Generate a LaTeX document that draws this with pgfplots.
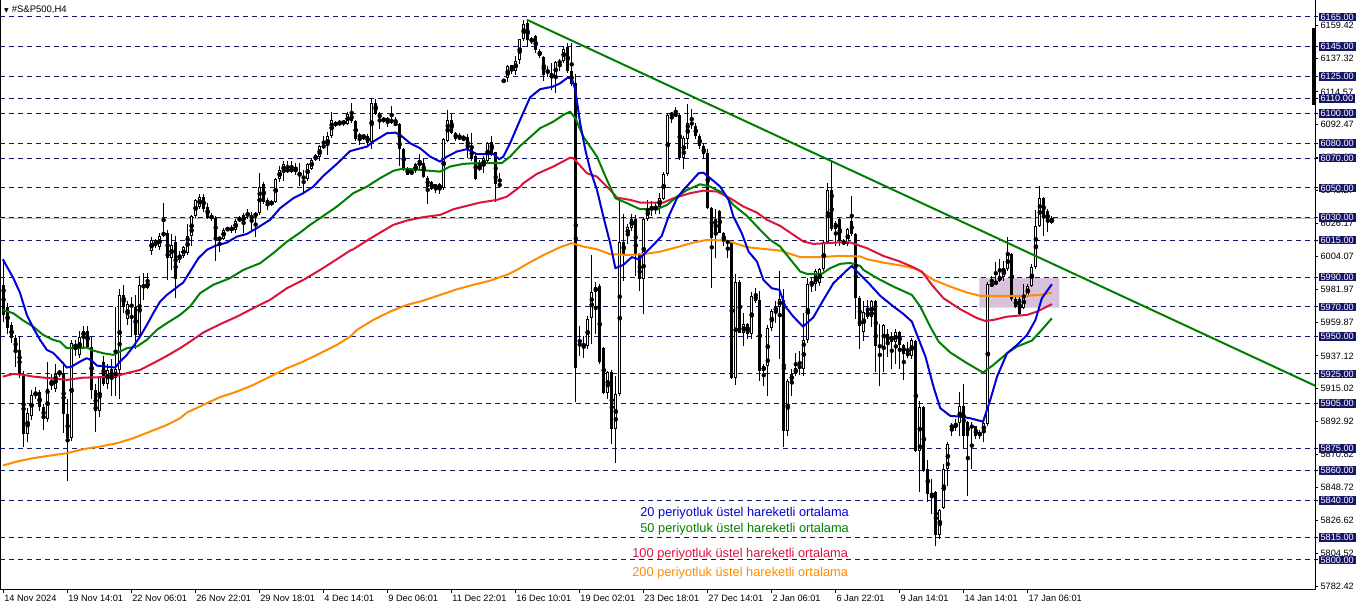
\documentclass[border=0pt]{standalone}
\usepackage{pgfplots}
\pgfplotsset{compat=1.18}
\usepackage{pgfplotstable}
\usepackage{fontspec}
\setmainfont{Liberation Sans}
\newfontfamily\dejavu{DejaVu Sans}
\definecolor{navyL}{RGB}{22,22,102}
\definecolor{blueMA}{RGB}{0,0,215}
\definecolor{greenMA}{RGB}{0,128,0}
\definecolor{redMA}{RGB}{220,20,60}
\definecolor{orangeMA}{RGB}{255,140,0}
\definecolor{boxP}{RGB}{216,193,218}

\pgfplotstableread{
i O H L C
0 5985 6002 5960 5965
1 5970 5973 5952 5956
2 5958 5960 5946 5949
3 5949 5951 5930 5941
4 5941 5950 5922 5925
5 5924 5927 5876 5885
6 5885 5902 5879 5899
7 5897 5914 5894 5911
8 5910 5916 5908 5913
9 5913 5914 5900 5903
10 5903 5905 5887 5895
11 5895 5933 5893 5915
12 5917 5925 5914 5920
13 5915 5932 5913 5925
14 5925 5928 5923 5927
15 5926 5933 5885 5898
16 5898 5908 5853 5882
17 5882 5948 5880 5946
18 5943 5948 5937 5945
19 5938 5954 5936 5950
20 5950 5957 5943 5954
21 5954 5957 5942 5943
22 5943 5950 5908 5914
23 5914 5918 5886 5900
24 5900 5924 5896 5923
25 5933 5937 5917 5918
26 5918 5932 5915 5928
27 5928 5935 5910 5922
28 5922 5970 5910 5928
29 5928 5982 5908 5978
30 5978 5985 5966 5970
31 5962 5974 5958 5972
32 5972 5977 5950 5970
33 5970 5978 5942 5951
34 5951 5991 5950 5985
35 5985 5993 5975 5983
36 5983 5993 5982 5987
37 6008 6017 6005 6015
38 6015 6016 6010 6011
39 6010 6020 6008 6018
40 6018 6040 6017 6020
41 6020 6022 5988 6003
42 6003 6019 5995 6012
43 6014 6018 5976 5989
44 6002 6008 6000 6005
45 6004 6011 6003 6010
46 6006 6026 6005 6018
47 6018 6032 6011 6031
48 6031 6043 6030 6042
49 6037 6046 6036 6044
50 6044 6046 6034 6036
51 6037 6040 6029 6030
52 6031 6033 6028 6030
53 6030 6031 6001 6017
54 6017 6018 6007 6015
55 6016 6023 6015 6022
56 6022 6024 6021 6022.5
57 6021 6025 6020 6024
58 6022 6029 6020 6028
59 6028 6031 6027 6030
60 6027 6033 6020 6032
61 6033 6036 6029 6031
62 6030 6034 6022 6031
63 6031 6034 6017 6033
64 6033 6060 6032 6051
65 6053 6054 6039 6041
66 6042 6043 6035 6039
67 6039 6042 6038 6041
68 6041 6057 6040 6056
69 6056 6065 6054 6062
70 6061 6068 6055 6066
71 6061 6068 6060 6063
72 6062 6068 6060 6062.3
73 6063 6067 6059 6061
74 6061 6067 6051 6058
75 6058 6062 6046 6056
76 6056 6067 6055 6066
77 6063 6070 6062 6069
78 6069 6073 6068 6072
79 6071 6079 6068 6078
80 6078 6085 6076 6078.3
81 6078 6088 6072 6085
82 6085 6101 6084 6096
83 6093 6095 6091 6093.3
84 6093 6096 6092 6094
85 6094 6096 6092 6094.5
86 6093 6101 6092 6100
87 6100 6107 6094 6095
88 6095 6096 6082 6083
89 6085.5 6087 6079 6084.5
90 6085 6086 6082 6084.6
91 6085 6086 6079 6080.5
92 6081 6110 6076 6107
93 6107 6110 6099 6100
94 6100 6101 6090 6097
95 6095 6098 6094 6097
96 6097 6098 6091 6095
97 6096 6105 6093 6094
98 6094 6098 6091.7 6092
99 6093 6094 6065 6076.5
100 6076.5 6077 6061.5 6062.6
101 6062.6 6064 6058.8 6059
102 6061 6062.6 6059 6059.7
103 6061.5 6067 6060 6066
104 6065.3 6072.7 6062.6 6067.5
105 6067 6070.4 6057 6057.7
106 6057 6058 6039.5 6050.7
107 6054 6054.8 6048.7 6049
108 6049 6053 6046.5 6052.5
109 6049 6053.6 6045.8 6052.5
110 6050 6084 6049 6083
111 6082 6102.5 6081 6096
112 6095.5 6099.5 6086 6087
113 6087 6088 6082 6083
114 6084.3 6086.8 6082.3 6083.2
115 6084 6086 6081.6 6082.3
116 6084.5 6086 6070.4 6076
117 6076 6087 6068 6070.4
118 6071.5 6072.7 6055.4 6056
119 6062 6069 6061.5 6065
120 6065 6071.5 6060 6070
121 6068 6081 6067 6080.5
122 6081 6085 6071.5 6072.7
123 6074 6074 6040.6 6052.5
124 6053 6060 6050 6051
125 6122.4 6123 6121 6122
126 6124 6133 6121 6132
127 6132.5 6133 6126.4 6129.3
128 6128.7 6138.8 6125.8 6135.4
129 6136 6150.4 6133 6150
130 6150 6163 6149 6160
131 6160.7 6163.4 6145 6149.5
132 6148 6151.7 6146.6 6151
133 6152 6152.6 6141 6142.8
134 6142 6143.7 6137.6 6138.8
135 6138.3 6138.8 6122 6126
136 6128.7 6132 6125 6127.6
137 6127.6 6134 6116 6124.2
138 6124.2 6135.4 6114 6134.7
139 6134.7 6136.5 6128.7 6134.4
140 6135.4 6145.5 6134.3 6143.7
141 6145 6147.7 6127.6 6128.7
142 6128.7 6147.7 6118.6 6119.7
143 6120.4 6126.4 5905.8 5929.3
144 5945 5957.3 5937.2 5944.5
145 5945 5950.6 5936 5943.9
146 5944 5964 5941.6 5962.2
147 5963 6004.8 5945 5980
148 5980 5987 5952 5983.7
149 5984 5985.3 5931.6 5933
150 5942.7 5943.4 5911.4 5912.5
151 5912.5 5927 5908 5926.4
152 5926.4 5927.5 5877.8 5888.3
153 5888 5923.7 5865.5 5911.4
154 5911.4 6043.6 5910.3 6013.8
155 6013.8 6032.4 5987.6 6005.5
156 6017.8 6025.6 6012.2 6024
157 6023.4 6032.4 6021.2 6029
158 6029 6031.7 5991 6004.8
159 6004.8 6006.6 5980.8 5988.7
160 5988.7 6030 5965.2 6029
161 6029 6042.4 6027.9 6036.8
162 6035.7 6041.3 6031.2 6037.5
163 6036.8 6040.2 6032.4 6036.9
164 6037.5 6047 6032.4 6043.6
165 6042.9 6060.8 6042 6059.2
166 6059.2 6100.2 6058.1 6098.9
167 6099.5 6101 6094 6099.6
168 6098.4 6104.7 6098 6099.8
169 6098.9 6099.5 6068.9 6070.4
170 6070.4 6085 6062.6 6083.9
171 6083 6106.3 6076.5 6093.5
172 6094 6103.4 6089.5 6092.8
173 6091.7 6094 6082.8 6085
174 6085 6086 6076.5 6078.3
175 6078.3 6080.5 6069.3 6072.7
176 6073.3 6076 6035.7 6036.8
177 6036.8 6037.5 5983 6016.7
178 6029 6035.7 6003.2 6020
179 6034.6 6035 6019.6 6020
180 6020 6020.5 6011 6013.8
181 6014.4 6015.5 6003.2 6012.9
182 6012.9 6013.3 5921.5 5922.6
183 5922.6 5992 5917.4 5986.9
184 5986.9 5988.2 5952.4 5952.8
185 5952.8 5966.3 5943.9 5958.4
186 5958.9 5959.5 5948.4 5952.2
187 5952.2 5980.2 5948.8 5977.5
188 5977.9 5983 5973 5974.1
189 5974.8 5980.8 5920.4 5927
190 5927 5931.6 5917 5930.4
191 5930.4 5957.8 5910.3 5956.2
192 5956.2 5968.5 5954 5967.4
193 5966.7 5974.1 5959.6 5970.3
194 5970.3 5994.3 5935 5975.2
195 5974.8 5982 5875.6 5886.8
196 5886.8 5921.5 5883.4 5920.4
197 5920.4 5928.2 5910.3 5924.8
198 5924.8 5939.4 5923.7 5929.3
199 5930.4 5940.5 5924.2 5929.3
200 5928.6 5965.8 5923.7 5947.9
201 5947.9 5989.8 5946.1 5985.3
202 5985.3 5989.8 5980.2 5986.9
203 5985.3 5995.4 5980.8 5994.3
204 5986 5996.5 5984.2 5995.4
205 5995.4 6015.1 5994.3 6013.8
206 6013.8 6053.2 6012.9 6048.7
207 6048.7 6068.2 6021.2 6022.3
208 6022.3 6027.9 6011 6026.8
209 6029 6030.1 6011 6014.4
210 6014.4 6015.5 6011.5 6012.2
211 6012.2 6023.4 6011 6022.3
212 6027.9 6044.7 6017.8 6018.9
213 6018.9 6019.6 5961.8 5976.4
214 5976.4 5977.5 5941.6 5957.3
215 5953.5 5974.3 5947.4 5966.9
216 5963.1 5974.8 5962 5967.6
217 5963.1 5975 5956.4 5974.3
218 5974.3 5975 5926.2 5944.1
219 5944.5 5958.6 5917.2 5943
220 5943 5958.6 5926.6 5958
221 5951.9 5955.3 5936.2 5946.3
222 5950.8 5953 5928.4 5946.3
223 5946.3 5955.3 5931.8 5953
224 5953 5954.2 5928.4 5944.5
225 5944.5 5945.2 5921.2 5938.5
226 5939.6 5946.3 5935.6 5937.4
227 5937.4 5949 5935.1 5948.1
228 5947.4 5948.1 5872.4 5873.5
229 5873.5 5907.1 5845.5 5902.6
230 5902.6 5903.3 5859 5860.1
231 5861.2 5867.5 5838.8 5844.4
232 5843.3 5854.5 5831 5844.4
233 5845.5 5846.6 5809.7 5816.9
234 5816.9 5834.3 5814.2 5833.9
235 5834.8 5864.6 5834.3 5861.2
236 5861.2 5879.1 5850 5878
237 5888.6 5891.9 5883.6 5890.8
238 5888.6 5894.8 5887 5892.1
239 5892.1 5912.7 5883.6 5903.8
240 5903.8 5918.3 5874.6 5883.6
241 5893 5893.7 5843.3 5883.2
242 5890.8 5892.6 5861.2 5888.5
243 5889.9 5890.3 5881.4 5883.6
244 5886.3 5887.6 5881.4 5883.2
245 5885.8 5893.7 5879.6 5892.1
246 5891.4 5986.6 5890.3 5985.5
247 5984 5991.1 5984 5986.2
248 5985.5 6000.5 5985 5987.3
249 5987.8 6002.3 5987.1 5990.7
250 5990 6001.2 5987.8 5996
251 5995.6 6016.9 5994.5 6005.7
252 6005.7 6006.1 5974.3 5975.4
253 5975.4 5976.6 5969.2 5969.8
254 5975.4 5976.6 5964.7 5965.4
255 5969.2 5985.5 5968.7 5977.7
256 5977.2 5985.5 5976.6 5984.4
257 5984.4 5999 5983.3 5996.7
258 5996.7 6035.5 5995.6 6024.3
259 6024.3 6051.6 6023.6 6043.1
260 6043.1 6043.8 6018 6030.3
261 6034.8 6035.9 6020.2 6027
262 6026.5 6031.4 6025.8 6029.6
}\candles

\begin{document}
\begin{tikzpicture}
\path[use as bounding box] (0,0) rectangle (1362pt,611pt);
\begin{axis}[
  at={(0pt,21pt)}, anchor=south west,
  scale only axis, width=1315pt, height=590pt,
  xmin=-0.9, xmax=327.85, ymin=5779.83, ymax=6176.43,
  axis line style={line width=1pt, black},
  tick style={black, line width=1pt},
  tick align=outside, major tick length=3pt,
  xtick pos=bottom, ytick pos=right,
  yticklabel pos=right,
  xtick={0,16,...,256},
  xticklabels={14 Nov 2024,19 Nov 14:01,22 Nov 06:01,26 Nov 22:01,29 Nov 18:01,4 Dec 14:01,9 Dec 06:01,11 Dec 22:01,16 Dec 10:01,19 Dec 02:01,23 Dec 18:01,27 Dec 14:01,2 Jan 06:01,6 Jan 22:01,9 Jan 14:01,14 Jan 14:01,17 Jan 06:01},
  xticklabel style={anchor=north west, inner xsep=0.5pt, inner ysep=1.5pt, font=\fontsize{9.2}{11}\selectfont},
  ytick={6159.42,6137.32,6114.57,6092.47,6070.37,6048.27,6026.17,6004.07,5981.97,5959.87,5937.12,5915.02,5892.92,5870.82,5848.72,5826.62,5804.52,5782.42},
  yticklabels={6159.42,6137.32,6114.57,6092.47,6070.37,6048.27,6026.17,6004.07,5981.97,5959.87,5937.12,5915.02,5892.92,5870.82,5848.72,5826.62,5804.52,5782.42},
  yticklabel style={anchor=west, inner xsep=2pt, inner ysep=1pt, font=\fontsize{9.2}{11}\selectfont},
  extra y ticks={6165,6145,6125,6110,6100,6080,6070,6050,6030,6015,5990,5970,5950,5925,5905,5875,5860,5840,5815,5800},
  extra y tick labels={6165.00,6145.00,6125.00,6110.00,6100.00,6080.00,6070.00,6050.00,6030.00,6015.00,5990.00,5970.00,5950.00,5925.00,5905.00,5875.00,5860.00,5840.00,5815.00,5800.00},
  extra y tick style={grid=major, major grid style={navyL, line width=1pt, dash pattern=on 5pt off 4pt},
     yticklabel style={fill=navyL, text=white}},
]
% bid line
\addplot[black!25, line width=1pt, forget plot] coordinates {(-0.9,6029.4) (327.85,6029.4)};
% rectangle zone
\addplot[fill=boxP, draw=none, forget plot] coordinates {(243.9,5969.6) (263.9,5969.6) (263.9,5989.4) (243.9,5989.4) (243.9,5969.6)};
% wicks
\addplot[only marks, mark=none, forget plot,
  error bars/.cd, y dir=both, y explicit, error mark=none,
  error bar style={line width=1pt, black}]
  table[x=i, y expr={(\thisrow{H}+\thisrow{L})/2}, y error expr={(\thisrow{H}-\thisrow{L})/2}] {\candles};
% bodies
\addplot[only marks, mark=none, forget plot,
  error bars/.cd, y dir=both, y explicit, error mark=none,
  error bar style={line width=3pt, black}]
  table[x=i, y expr={(\thisrow{O}+\thisrow{C})/2}, y error expr={max(abs(\thisrow{O}-\thisrow{C})/2,0.4)}] {\candles};
% hollow interiors of rising candles
\addplot[only marks, mark=none, forget plot,
  error bars/.cd, y dir=both, y explicit, error mark=none,
  error bar style={line width=1pt, white}]
  table[x=i, y expr={ifthenelse(\thisrow{C}-\thisrow{O}>1.4,(\thisrow{O}+\thisrow{C})/2,0)}, y error expr={max((\thisrow{C}-\thisrow{O})/2-0.67,0)}] {\candles};
% EMA 200
\addplot[orangeMA, line width=2pt, line join=round] coordinates {
(-0.2,5863.4) (3.3,5866.1) (7.4,5868.4) (11.6,5870.1) (15.8,5871.7) (19.9,5874.4) (24.1,5876.2) (28.3,5878.4) (32.4,5881.8) (36.6,5886.2) (40.8,5890.7) (44.1,5895.2) (45.8,5899.0) (49.9,5904.2) (54.1,5909.4) (58.3,5913.1) (62.4,5917.6) (66.6,5923.2) (70.8,5928.8) (74.9,5933.3) (79.1,5938.9) (83.3,5944.5) (86.6,5950.1) (88.3,5954.6) (92.4,5961.3) (96.6,5966.9) (100.8,5971.4) (104.9,5974.3) (109.1,5978.1) (113.3,5981.9) (117.4,5984.9) (121.6,5987.7) (125.8,5991.6) (129.1,5996.1) (130.8,5998.9) (135.0,6005.0) (139.1,6010.2) (142.0,6012.9) (144.9,6010.6) (148.3,6008.8) (151.6,6005.5) (155.8,6005.0) (159.9,6005.5) (164.1,6007.2) (168.3,6010.2) (172.4,6013.3) (175.8,6015.1) (180.8,6014.6) (185.8,6010.2) (190.8,6008.8) (194.1,6007.9) (196.6,6005.7) (199.1,6003.5) (204.1,6003.5) (209.1,6004.4) (214.1,6004.0) (215.8,6002.1) (219.9,5999.8) (224.9,5997.6) (228.3,5995.4) (232.4,5988.2) (236.6,5983.7) (240.8,5979.7) (244.1,5977.5) (249.1,5977.5) (254.9,5977.5) (259.1,5978.1) (262.0,5979.7)};
% EMA 100
\addplot[redMA, line width=2pt, line join=round] coordinates {
(-0.2,5923.2) (2.4,5925.0) (4.9,5924.4) (7.4,5923.2) (11.6,5922.1) (15.8,5921.0) (19.9,5922.5) (24.1,5922.8) (28.3,5923.7) (30.8,5925.5) (34.1,5927.7) (37.4,5932.2) (40.8,5937.1) (44.1,5942.3) (46.6,5946.7) (49.9,5952.8) (54.1,5958.4) (58.3,5963.5) (62.4,5969.2) (66.6,5974.8) (70.8,5982.6) (74.9,5988.2) (79.1,5994.9) (83.3,6002.1) (86.6,6007.9) (87.4,6008.8) (90.8,6014.6) (94.1,6020.0) (97.4,6025.2) (100.8,6028.1) (104.9,6030.4) (109.1,6031.9) (112.4,6035.7) (115.8,6038.0) (119.1,6040.2) (123.3,6042.0) (125.8,6044.2) (129.1,6050.9) (129.9,6053.2) (133.3,6059.5) (137.4,6064.4) (141.6,6070.4) (142.4,6070.0) (145.8,6059.9) (148.3,6057.6) (151.6,6048.7) (153.3,6043.5) (156.6,6042.0) (159.1,6040.2) (164.9,6040.2) (167.4,6043.1) (171.6,6046.5) (174.9,6048.2) (178.3,6047.6) (181.6,6043.1) (184.9,6037.5) (188.3,6033.4) (190.8,6028.6) (194.1,6024.5) (197.4,6018.5) (199.9,6014.0) (202.4,6012.4) (205.8,6012.9) (209.1,6013.5) (211.6,6013.4) (215.8,6009.5) (219.9,6004.3) (224.1,6000.5) (227.0,5997.1) (229.5,5993.8) (232.0,5984.9) (234.9,5975.9) (239.1,5968.5) (243.3,5962.5) (245.4,5960.6) (247.4,5961.3) (250.8,5963.5) (255.8,5964.7) (258.3,5966.9) (262.0,5971.9)};
% EMA 50
\addplot[greenMA, line width=2pt, line join=round] coordinates {
(-0.2,5968.0) (2.4,5965.8) (4.9,5960.9) (7.4,5956.8) (9.9,5951.2) (12.4,5947.9) (14.1,5946.7) (15.8,5942.3) (18.3,5942.3) (20.8,5942.7) (22.4,5940.7) (24.9,5938.9) (27.4,5937.8) (29.1,5940.0) (30.8,5942.3) (33.3,5943.4) (35.8,5947.9) (38.3,5954.6) (40.8,5959.1) (44.1,5964.7) (46.6,5970.3) (49.1,5979.3) (52.4,5984.9) (56.6,5989.4) (59.9,5994.9) (64.1,5999.4) (67.4,6006.2) (70.8,6013.9) (74.1,6020.0) (76.6,6025.2) (79.9,6031.2) (83.3,6037.5) (86.6,6044.7) (87.4,6046.5) (90.8,6050.9) (94.1,6056.6) (97.4,6061.5) (99.1,6062.6) (102.4,6062.6) (105.8,6061.7) (109.1,6061.0) (111.6,6064.4) (114.9,6066.2) (118.3,6066.7) (122.4,6066.7) (124.5,6066.7) (126.6,6071.1) (129.1,6078.3) (129.9,6080.1) (134.1,6090.2) (137.4,6094.6) (139.9,6099.1) (141.6,6101.3) (142.9,6096.9) (144.9,6084.5) (148.3,6071.1) (150.8,6055.4) (152.9,6043.1) (155.8,6039.8) (159.1,6035.7) (163.3,6035.7) (165.8,6038.6) (168.3,6044.2) (170.8,6048.7) (174.1,6052.5) (176.6,6050.9) (179.9,6046.5) (182.4,6038.6) (185.8,6031.2) (189.1,6021.8) (191.6,6015.1) (194.1,6010.6) (196.6,6002.1) (199.1,5993.8) (200.8,5992.3) (204.5,5992.3) (206.6,5996.1) (209.1,5999.0) (211.6,5999.6) (214.1,5997.6) (214.9,5994.9) (218.3,5989.4) (222.4,5983.7) (227.0,5978.1) (229.1,5970.3) (231.6,5956.8) (233.7,5946.7) (236.6,5939.4) (240.8,5932.2) (244.8,5925.9) (247.4,5931.1) (250.8,5938.9) (253.3,5943.4) (257.0,5947.4) (259.1,5953.5) (262.0,5962.4)};
% EMA 20
\addplot[blueMA, line width=2pt, line join=round] coordinates {
(-0.2,6002.1) (2.4,5989.6) (4.1,5979.5) (5.8,5964.7) (7.4,5956.0) (9.1,5947.9) (10.8,5941.2) (12.4,5939.1) (14.1,5934.4) (15.8,5929.3) (17.0,5929.9) (19.1,5933.3) (20.8,5935.6) (22.0,5934.0) (23.3,5930.6) (25.8,5929.9) (27.9,5929.3) (29.1,5933.3) (30.8,5937.8) (32.4,5943.4) (34.1,5950.1) (35.8,5957.9) (37.4,5965.8) (39.1,5973.6) (40.8,5978.1) (44.1,5984.9) (44.9,5986.4) (46.6,5993.8) (48.7,6002.8) (50.8,6008.4) (52.9,6011.1) (55.8,6013.3) (58.3,6017.3) (60.8,6019.1) (63.3,6023.0) (66.6,6028.6) (69.1,6036.4) (72.4,6043.1) (74.9,6046.5) (77.4,6050.9) (79.9,6058.1) (83.3,6066.2) (86.6,6074.8) (90.8,6077.8) (92.4,6081.2) (95.8,6086.8) (97.9,6087.2) (99.1,6085.7) (101.6,6080.1) (104.1,6076.7) (106.6,6071.1) (109.1,6067.7) (110.8,6071.1) (113.3,6074.5) (115.8,6076.1) (118.3,6072.7) (120.8,6072.7) (122.4,6072.9) (123.9,6069.3) (124.9,6071.1) (126.6,6080.1) (129.1,6095.8) (131.6,6111.0) (134.1,6116.4) (137.4,6118.2) (139.1,6120.4) (140.8,6123.8) (142.0,6123.8) (142.9,6115.9) (144.1,6093.5) (145.4,6075.6) (146.6,6062.2) (148.3,6048.7) (149.9,6030.8) (151.6,6012.9) (152.9,5996.1) (154.9,5998.3) (157.0,6003.5) (158.7,6002.1) (159.9,6005.0) (162.4,6011.7) (164.5,6017.8) (166.2,6030.8) (168.3,6043.1) (169.9,6048.7) (171.6,6053.6) (173.7,6059.9) (174.9,6060.3) (176.6,6056.6) (179.1,6050.9) (181.2,6042.0) (182.4,6030.8) (184.5,6019.6) (186.2,6007.2) (188.3,6000.5) (189.9,5988.2) (192.0,5982.6) (193.9,5981.5) (195.4,5970.3) (197.4,5963.5) (199.8,5956.8) (202.4,5963.1) (204.9,5974.8) (207.4,5986.0) (210.4,5993.8) (212.0,5997.6) (213.3,5993.8) (216.6,5984.9) (219.1,5977.5) (222.4,5970.3) (224.9,5965.3) (227.0,5960.2) (228.3,5951.2) (230.4,5936.7) (232.4,5916.5) (234.1,5902.0) (236.6,5896.8) (239.1,5896.3) (241.6,5895.2) (244.8,5892.9) (246.6,5907.5) (248.3,5923.2) (250.8,5938.9) (253.3,5944.5) (255.8,5951.2) (257.9,5961.3) (259.5,5975.9) (262.0,5985.3)};
% trend line
\addplot[greenMA, line width=2pt] coordinates {(130.85,6163.0) (327.85,5917.0)};
% side marker
\draw[line width=3pt] (axis cs:327.4,6157.6) -- (axis cs:327.4,6105.8);
% texts
\node[anchor=west, inner sep=0pt, text=blueMA, font=\fontsize{12.8}{14}\selectfont] at (axis cs:159.1,5831.6) {20 periyotluk üstel hareketli ortalama};
\node[anchor=west, inner sep=0pt, text=greenMA, font=\fontsize{12.8}{14}\selectfont] at (axis cs:159.1,5820.8) {50 periyotluk üstel hareketli ortalama};
\node[anchor=west, inner sep=0pt, text=redMA, font=\fontsize{12.8}{14}\selectfont] at (axis cs:157.1,5804.0) {100 periyotluk üstel hareketli ortalama};
\node[anchor=west, inner sep=0pt, text=orangeMA, font=\fontsize{12.8}{14}\selectfont] at (axis cs:157.1,5791.3) {200 periyotluk üstel hareketli ortalama};
\end{axis}
\node[anchor=west, inner sep=0pt, font=\fontsize{9.5}{11}\selectfont] at (4pt,601pt) {{\dejavu\fontsize{6}{7}\selectfont ▼}\hspace{3pt}\#S\&P500,H4};
\end{tikzpicture}
\end{document}
